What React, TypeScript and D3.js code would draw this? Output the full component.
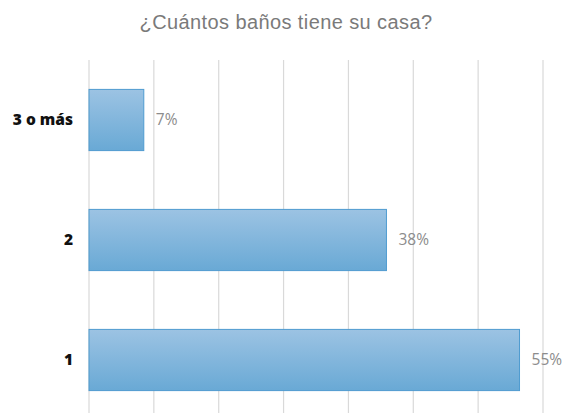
import React from "react";
import * as d3 from "d3";

const title = "¿Cuántos baños tiene su casa?";
const categories = ["3 o más", "2", "1"];
const values = [7, 38, 55];
const valueLabels = ["7%", "38%", "55%"];
const axisMax = 58;
const gridCount = 8;

const W = 563;
const H = 413;
const valueFont = 15.5;

export default function App() {
  const x = d3.scaleLinear().domain([0, axisMax]).range([89, 543]);
  const y = d3.scaleBand<string>().domain(categories).range([60, 420]).paddingInner(0.49).paddingOuter(0.245);
  const ticks = d3.range(gridCount).map((i) => (i * axisMax) / (gridCount - 1));

  return (
    <svg width={W} height={H} style={{ position: "absolute", left: 0, top: 0, background: "#fff" }}>
      <defs>
        <linearGradient id="barGrad" x1="0" y1="0" x2="0" y2="1">
          <stop offset="0%" stopColor="#9cc3e3" />
          <stop offset="100%" stopColor="#69a9d5" />
        </linearGradient>
      </defs>
      <rect width={W} height={H} fill="#fff" />
      <text
        x={286}
        y={29}
        textAnchor="middle"
        fontFamily="Liberation Sans, Arial, sans-serif"
        fontSize={20}
        letterSpacing={0.4}
        fill="#7a7a7a"
      >
        {title}
      </text>
      {ticks.map((t, i) => (
        <line key={i} x1={x(t)} x2={x(t)} y1={60} y2={H} stroke="#d9d9d9" strokeWidth={1.2} />
      ))}
      {categories.map((c, i) => {
        const cy = (y(c) as number) + y.bandwidth() / 2;
        const estW = valueLabels[i].length * valueFont * 0.6;
        let lx = x(values[i]) + 12;
        let anchor: "start" | "end" = "start";
        if (lx + estW > W - 2) {
          lx = W - 2;
          anchor = "end";
        }
        return (
          <g key={c}>
            <rect
              x={x(0)}
              y={y(c)}
              width={x(values[i]) - x(0)}
              height={y.bandwidth()}
              fill="url(#barGrad)"
              stroke="#4f9bd0"
              strokeWidth={1}
            />
            <text
              x={73}
              y={cy}
              dy="0.35em"
              textAnchor="end"
              fontFamily="Open Sans, sans-serif"
              fontWeight={800}
              fontSize={15.5}
              fill="#111"
            >
              {c}
            </text>
            <text
              x={lx}
              y={cy}
              dy="0.35em"
              textAnchor={anchor}
              fontFamily="Open Sans, sans-serif"
              fontSize={valueFont}
              fill="#8c8c8c"
            >
              {valueLabels[i]}
            </text>
          </g>
        );
      })}
    </svg>
  );
}
